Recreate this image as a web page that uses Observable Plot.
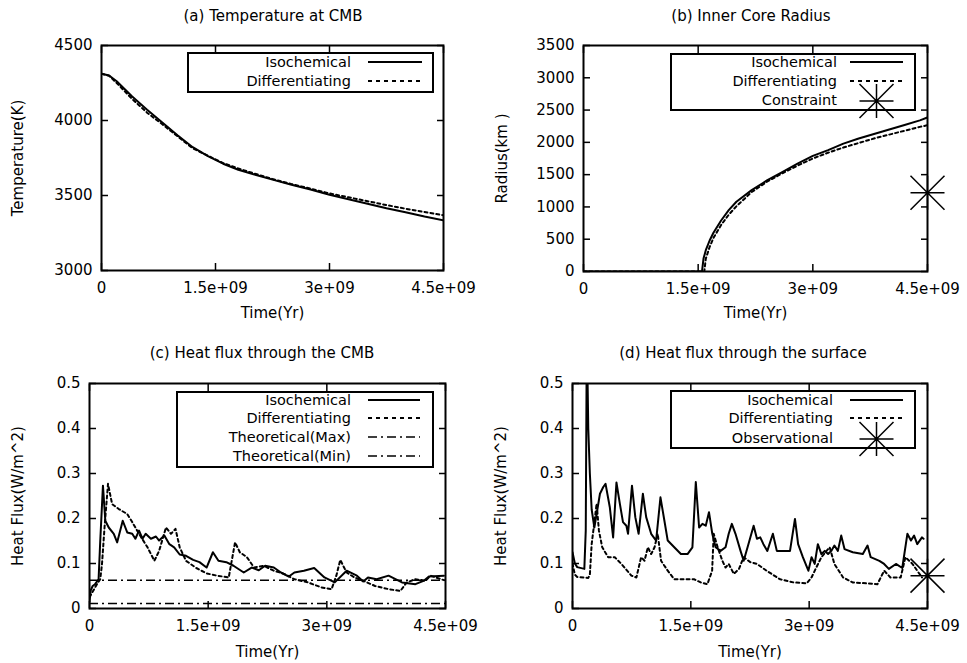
<!DOCTYPE html>
<html><head><meta charset="utf-8">
<script src="https://cdn.jsdelivr.net/npm/d3@7"></script>
<script src="https://cdn.jsdelivr.net/npm/@observablehq/plot@0.6"></script>
<style>
body{margin:0;background:#fff;}
#root{position:relative;width:967px;height:663px;background:#fff;font-family:"DejaVu Sans",sans-serif;color:#000;overflow:hidden;}
.panel{position:absolute;}
.title{position:absolute;font-size:15px;white-space:nowrap;transform:translateX(-50%);line-height:16px;}
#overlay{position:absolute;left:0;top:0;pointer-events:none;}
</style></head><body><div id="root"></div>
<script>
// ---------------- data (time in Gyr) ----------------
const xTicks = [0, 1.5e9, 3e9, 4.5e9];
const xTickLabels = ["0", "1.5e+09", "3e+09", "4.5e+09"];
const xLabel = "Time(Yr)";
const seriesNames = ["Isochemical", "Differentiating"];

// (a) Temperature at CMB
const tempTicks = [3000, 3500, 4000, 4500];
const tempTickLabels = ["3000", "3500", "4000", "4500"];
const tempT = [0, 0.1, 0.2, 0.4, 0.6, 0.8, 1.0, 1.2, 1.4, 1.6, 1.8, 2.0, 2.25, 2.5, 2.75, 3.0, 3.25, 3.5, 3.75, 4.0, 4.25, 4.5];
const tempIso = [4312, 4300, 4262, 4162, 4072, 3987, 3902, 3822, 3762, 3712, 3672, 3642, 3606, 3572, 3540, 3505, 3475, 3445, 3415, 3388, 3360, 3335];
const tempDiff = [4312, 4298, 4250, 4145, 4052, 3975, 3895, 3815, 3765, 3716, 3680, 3648, 3610, 3576, 3546, 3514, 3488, 3462, 3436, 3412, 3390, 3368];

// (b) Inner core radius
const radTicks = [0, 500, 1000, 1500, 2000, 2500, 3000, 3500];
const radTickLabels = ["0", "500", "1000", "1500", "2000", "2500", "3000", "3500"];
const radIsoT = [0, 1.55, 1.57, 1.6, 1.65, 1.7, 1.8, 1.9, 2.0, 2.2, 2.4, 2.6, 2.8, 3.0, 3.2, 3.4, 3.6, 3.8, 4.0, 4.2, 4.4, 4.5];
const radIso = [0, 0, 200, 330, 480, 600, 790, 950, 1080, 1260, 1410, 1540, 1670, 1790, 1880, 1980, 2060, 2130, 2200, 2270, 2340, 2385];
const radDiffT = [0, 1.58, 1.6, 1.65, 1.7, 1.8, 1.9, 2.0, 2.2, 2.4, 2.6, 2.8, 3.0, 3.2, 3.4, 3.6, 3.8, 4.0, 4.2, 4.4, 4.5];
const radDiff = [0, 0, 200, 380, 520, 720, 880, 1010, 1230, 1390, 1520, 1640, 1750, 1840, 1920, 1990, 2060, 2120, 2180, 2240, 2265];
const constraintT = [4.5];
const constraintR = [1220];

// (c) Heat flux through the CMB
const fluxTicks = [0, 0.1, 0.2, 0.3, 0.4, 0.5];
const fluxTickLabels = ["0", "0.1", "0.2", "0.3", "0.4", "0.5"];
const cmbIsoT = [0, 0.015, 0.04, 0.07, 0.115, 0.136, 0.17, 0.2, 0.243, 0.307, 0.35, 0.42, 0.477, 0.54, 0.58, 0.626, 0.67, 0.71, 0.776, 0.84, 0.88, 0.946, 1.01, 1.07, 1.14, 1.22, 1.31, 1.39, 1.48, 1.56, 1.63, 1.73, 1.82, 1.95, 2.05, 2.14, 2.22, 2.33, 2.42, 2.52, 2.59, 2.71, 2.84, 2.97, 3.1, 3.25, 3.38, 3.46, 3.52, 3.63, 3.78, 3.95, 4.12, 4.23, 4.29, 4.48];
const cmbIso = [0.015, 0.04, 0.05, 0.054, 0.065, 0.151, 0.273, 0.195, 0.18, 0.166, 0.147, 0.195, 0.169, 0.166, 0.155, 0.173, 0.155, 0.166, 0.155, 0.16, 0.151, 0.162, 0.143, 0.136, 0.12, 0.117, 0.108, 0.103, 0.091, 0.125, 0.106, 0.103, 0.095, 0.08, 0.091, 0.085, 0.095, 0.091, 0.08, 0.071, 0.08, 0.084, 0.09, 0.069, 0.058, 0.084, 0.073, 0.06, 0.069, 0.065, 0.073, 0.058, 0.054, 0.062, 0.071, 0.073];
const cmbDiffT = [0, 0.094, 0.136, 0.158, 0.19, 0.234, 0.286, 0.37, 0.477, 0.54, 0.626, 0.733, 0.82, 0.88, 0.967, 1.03, 1.087, 1.14, 1.22, 1.35, 1.48, 1.61, 1.76, 1.84, 1.9, 1.99, 2.08, 2.2, 2.33, 2.46, 2.59, 2.76, 2.93, 3.06, 3.12, 3.17, 3.25, 3.35, 3.48, 3.61, 3.78, 3.93, 4.01, 4.12, 4.25, 4.31, 4.48];
const cmbDiff = [0.025, 0.054, 0.065, 0.099, 0.18, 0.277, 0.232, 0.221, 0.21, 0.192, 0.166, 0.136, 0.106, 0.128, 0.18, 0.166, 0.177, 0.136, 0.106, 0.09, 0.078, 0.073, 0.069, 0.147, 0.125, 0.114, 0.091, 0.095, 0.084, 0.077, 0.065, 0.058, 0.047, 0.043, 0.073, 0.108, 0.08, 0.069, 0.06, 0.05, 0.043, 0.039, 0.058, 0.065, 0.062, 0.073, 0.063];
const theoMax = 0.063;
const theoMin = 0.011;
const theoNames = ["Theoretical(Max)", "Theoretical(Min)"];

// (d) Heat flux through the surface
const surfIsoT = [0, 0.03, 0.06, 0.15, 0.168, 0.178, 0.185, 0.19, 0.2, 0.22, 0.243, 0.277, 0.306, 0.348, 0.39, 0.419, 0.473, 0.515, 0.557, 0.6, 0.64, 0.683, 0.704, 0.754, 0.796, 0.838, 0.892, 0.934, 0.997, 1.06, 1.115, 1.165, 1.207, 1.29, 1.374, 1.458, 1.52, 1.563, 1.605, 1.647, 1.689, 1.73, 1.772, 1.814, 1.877, 1.94, 1.98, 2.02, 2.066, 2.13, 2.17, 2.23, 2.296, 2.338, 2.38, 2.42, 2.47, 2.54, 2.59, 2.67, 2.757, 2.82, 2.86, 2.92, 2.99, 3.03, 3.07, 3.11, 3.155, 3.197, 3.24, 3.28, 3.32, 3.364, 3.406, 3.448, 3.553, 3.68, 3.74, 3.78, 3.89, 3.95, 4.01, 4.1, 4.18, 4.245, 4.29, 4.33, 4.37, 4.43, 4.45];
const surfIso = [0.125, 0.1, 0.092, 0.088, 0.173, 0.5, 0.56, 0.52, 0.4, 0.3, 0.22, 0.18, 0.21, 0.255, 0.27, 0.277, 0.225, 0.158, 0.28, 0.233, 0.192, 0.184, 0.166, 0.273, 0.203, 0.166, 0.255, 0.203, 0.166, 0.151, 0.247, 0.195, 0.151, 0.136, 0.121, 0.121, 0.136, 0.281, 0.18, 0.188, 0.184, 0.214, 0.166, 0.136, 0.128, 0.136, 0.166, 0.188, 0.166, 0.128, 0.106, 0.143, 0.184, 0.155, 0.158, 0.143, 0.128, 0.166, 0.128, 0.128, 0.128, 0.199, 0.143, 0.114, 0.084, 0.114, 0.099, 0.143, 0.121, 0.128, 0.121, 0.128, 0.14, 0.128, 0.162, 0.132, 0.125, 0.121, 0.14, 0.114, 0.106, 0.099, 0.088, 0.099, 0.09, 0.166, 0.151, 0.162, 0.143, 0.158, 0.155];
const surfDiffT = [0, 0.03, 0.06, 0.2, 0.22, 0.243, 0.264, 0.306, 0.335, 0.377, 0.452, 0.536, 0.62, 0.746, 0.81, 0.87, 0.913, 0.955, 0.997, 1.04, 1.08, 1.123, 1.207, 1.29, 1.458, 1.54, 1.626, 1.71, 1.77, 1.79, 1.84, 1.9, 1.94, 1.98, 2.045, 2.11, 2.17, 2.254, 2.338, 2.46, 2.63, 2.8, 2.97, 3.03, 3.09, 3.155, 3.22, 3.26, 3.32, 3.43, 3.55, 3.72, 3.865, 3.95, 4.03, 4.16, 4.22, 4.31, 4.43];
const surfDiff = [0.1, 0.075, 0.07, 0.068, 0.075, 0.143, 0.173, 0.233, 0.173, 0.136, 0.114, 0.114, 0.099, 0.073, 0.069, 0.114, 0.106, 0.136, 0.121, 0.136, 0.166, 0.106, 0.084, 0.065, 0.065, 0.065, 0.058, 0.054, 0.084, 0.166, 0.136, 0.106, 0.091, 0.099, 0.077, 0.088, 0.114, 0.103, 0.099, 0.084, 0.065, 0.058, 0.056, 0.069, 0.091, 0.114, 0.128, 0.136, 0.099, 0.069, 0.058, 0.056, 0.054, 0.084, 0.069, 0.069, 0.114, 0.099, 0.069];
const obsT = [4.5];
const obsV = [0.073];

// ---------------- helpers ----------------
const GYR = 1e9;
const table = (ts, vs) => ts.map((t, i) => ({t: t * GYR, v: vs[i]}));
const starSymbol = {
  draw(ctx, size) {
    const r = Math.sqrt(size / Math.PI);
    ctx.moveTo(-r, 0); ctx.lineTo(r, 0);
    ctx.moveTo(0, -r); ctx.lineTo(0, r);
    ctx.moveTo(-r, -r); ctx.lineTo(r, r);
    ctx.moveTo(-r, r); ctx.lineTo(r, -r);
  }
};
const SOLID = {stroke: "black", strokeWidth: 2, clip: true};
const DASH = {stroke: "black", strokeWidth: 2, strokeDasharray: "3,3", clip: true};
const DASHDOT = {stroke: "black", strokeWidth: 1.5, strokeDasharray: "9,4,2,4", clip: true};

const root = document.getElementById("root");

function panel(p) {
  const fmtX = d => xTickLabels[xTicks.indexOf(d)];
  const fmtY = d => p.yTickLabels[p.yTicks.indexOf(d)];
  const svg = Plot.plot({
    width: p.width, height: p.height,
    marginLeft: p.mL, marginRight: p.mR, marginTop: p.mT, marginBottom: p.mB,
    x: {domain: [0, 4.5e9]},
    y: {domain: p.yDomain},
    style: {fontFamily: "DejaVu Sans, sans-serif", fontSize: "15px", background: "transparent", color: "black", overflow: "visible"},
    marks: [
      ...p.marks,
      Plot.frame({stroke: "black", strokeWidth: 2}),
      Plot.axisX({anchor: "bottom", ticks: xTicks, tickFormat: fmtX, tickSize: -7, tickPadding: 19, strokeWidth: 1.5, label: null}),
      Plot.axisX({anchor: "top", ticks: xTicks, tickFormat: () => "", tickSize: -7, strokeWidth: 1.5, label: null}),
      Plot.axisY({anchor: "left", ticks: p.yTicks, tickFormat: fmtY, tickSize: -7, tickPadding: 16, strokeWidth: 1.5, label: null}),
      Plot.axisY({anchor: "right", ticks: p.yTicks, tickFormat: () => "", tickSize: -7, strokeWidth: 1.5, label: null}),
      Plot.text([p.yLabel], {text: d => d, frameAnchor: "left", dx: p.yLabelDx, rotate: -90, textAnchor: "middle", lineAnchor: "middle", fontSize: 15}),
      Plot.text([xLabel], {text: d => d, frameAnchor: "bottom", dy: p.xLabelDy, textAnchor: "middle", lineAnchor: "middle", fontSize: 15})
    ]
  });
  const div = document.createElement("div");
  div.className = "panel";
  div.style.left = p.left + "px";
  div.style.top = p.top + "px";
  div.appendChild(svg);
  root.appendChild(div);
  const t = document.createElement("div");
  t.className = "title";
  t.textContent = p.title;
  t.style.left = p.titleX + "px";
  t.style.top = p.titleY + "px";
  root.appendChild(t);
}

// (a)
panel({
  title: "(a) Temperature at CMB", titleX: 273, titleY: 8,
  left: 0, top: 0, width: 483, height: 330, mL: 101, mR: 40, mT: 45, mB: 60,
  yDomain: [3000, 4500], yTicks: tempTicks, yTickLabels: tempTickLabels,
  yLabel: "Temperature(K)", yLabelDx: -83, xLabelDy: 43,
  marks: [
    Plot.line(table(tempT, tempDiff), {x: "t", y: "v", ...DASH}),
    Plot.line(table(tempT, tempIso), {x: "t", y: "v", ...SOLID})
  ]
});
// (b)
panel({
  title: "(b) Inner Core Radius", titleX: 751, titleY: 8,
  left: 483, top: 0, width: 484, height: 330, mL: 100, mR: 40, mT: 45, mB: 59,
  yDomain: [0, 3500], yTicks: radTicks, yTickLabels: radTickLabels,
  yLabel: "Radius(km )", yLabelDx: -81, xLabelDy: 42,
  marks: [
    Plot.line(table(radDiffT, radDiff), {x: "t", y: "v", ...DASH}),
    Plot.line(table(radIsoT, radIso), {x: "t", y: "v", ...SOLID}),
    Plot.dot(table(constraintT, constraintR), {x: "t", y: "v", symbol: starSymbol, r: 17, stroke: "black", strokeWidth: 1.5})
  ]
});
// (c)
panel({
  title: "(c) Heat flux through the CMB", titleX: 262, titleY: 345,
  left: 0, top: 330, width: 483, height: 333, mL: 89, mR: 38, mT: 53, mB: 55,
  yDomain: [0, 0.5], yTicks: fluxTicks, yTickLabels: fluxTickLabels,
  yLabel: "Heat Flux(W/m^2)", yLabelDx: -71, xLabelDy: 44,
  marks: [
    Plot.ruleY([theoMax], {y: d => d, ...DASHDOT}),
    Plot.ruleY([theoMin], {y: d => d, ...DASHDOT}),
    Plot.line(table(cmbDiffT, cmbDiff), {x: "t", y: "v", ...DASH}),
    Plot.line(table(cmbIsoT, cmbIso), {x: "t", y: "v", ...SOLID})
  ]
});
// (d)
panel({
  title: "(d) Heat flux through the surface", titleX: 743, titleY: 345,
  left: 483, top: 330, width: 484, height: 333, mL: 89, mR: 40, mT: 53, mB: 55,
  yDomain: [0, 0.5], yTicks: fluxTicks, yTickLabels: fluxTickLabels,
  yLabel: "Heat Flux(W/m^2)", yLabelDx: -71, xLabelDy: 44,
  marks: [
    Plot.line(table(surfDiffT, surfDiff), {x: "t", y: "v", ...DASH}),
    Plot.line(table(surfIsoT, surfIso), {x: "t", y: "v", ...SOLID}),
    Plot.dot(table(obsT, obsV), {x: "t", y: "v", symbol: starSymbol, r: 17, stroke: "black", strokeWidth: 1.5})
  ]
});

// ---------------- legends (overlay) ----------------
const legendLayouts = [
  {box: [188, 53, 433, 92], textX: 351, sx: [368, 422],
   rows: [[62, seriesNames[0], "solid"], [81, seriesNames[1], "dash"]]},
  {box: [671, 54, 915, 110], textX: 837, sx: [850, 903],
   rows: [[62, seriesNames[0], "solid"], [81, seriesNames[1], "dash"], [100, "Constraint", "star"]]},
  {box: [177, 392, 433, 467], textX: 351, sx: [368, 420],
   rows: [[400, seriesNames[0], "solid"], [418, seriesNames[1], "dash"], [437, theoNames[0], "dashdot"], [456, theoNames[1], "dashdot"]]},
  {box: [671, 391, 915, 448], textX: 833, sx: [850, 903],
   rows: [[400, seriesNames[0], "solid"], [418, seriesNames[1], "dash"], [438, "Observational", "star"]]}
];
const ov = d3.select(root).append("svg").attr("id", "overlay").attr("width", 967).attr("height", 663)
  .style("font-family", "DejaVu Sans, sans-serif").style("font-size", "14.5px");
for (const L of legendLayouts) {
  const [x0, y0, x1, y1] = L.box;
  ov.append("rect").attr("x", x0).attr("y", y0).attr("width", x1 - x0).attr("height", y1 - y0)
    .attr("fill", "none").attr("stroke", "black").attr("stroke-width", 2);
  for (const [y, label, kind] of L.rows) {
    ov.append("text").attr("x", L.textX).attr("y", y).attr("text-anchor", "end")
      .attr("dominant-baseline", "central").attr("fill", "black").text(label);
    if (kind === "star") {
      const cx = (L.sx[0] + L.sx[1]) / 2, r = 17;
      ov.append("path").attr("transform", `translate(${cx},${y + 1})`)
        .attr("d", `M${-r},0L${r},0M0,${-r}L0,${r}M${-r},${-r}L${r},${r}M${-r},${r}L${r},${-r}`)
        .attr("stroke", "black").attr("stroke-width", 1.5).attr("fill", "none");
    } else {
      ov.append("line").attr("x1", L.sx[0]).attr("x2", L.sx[1]).attr("y1", y).attr("y2", y)
        .attr("stroke", "black")
        .attr("stroke-width", kind === "dashdot" ? 1.5 : 1.8)
        .attr("stroke-dasharray", kind === "dash" ? "4,4" : kind === "dashdot" ? "9,4,2,4" : null);
    }
  }
}
</script>
</body></html>
